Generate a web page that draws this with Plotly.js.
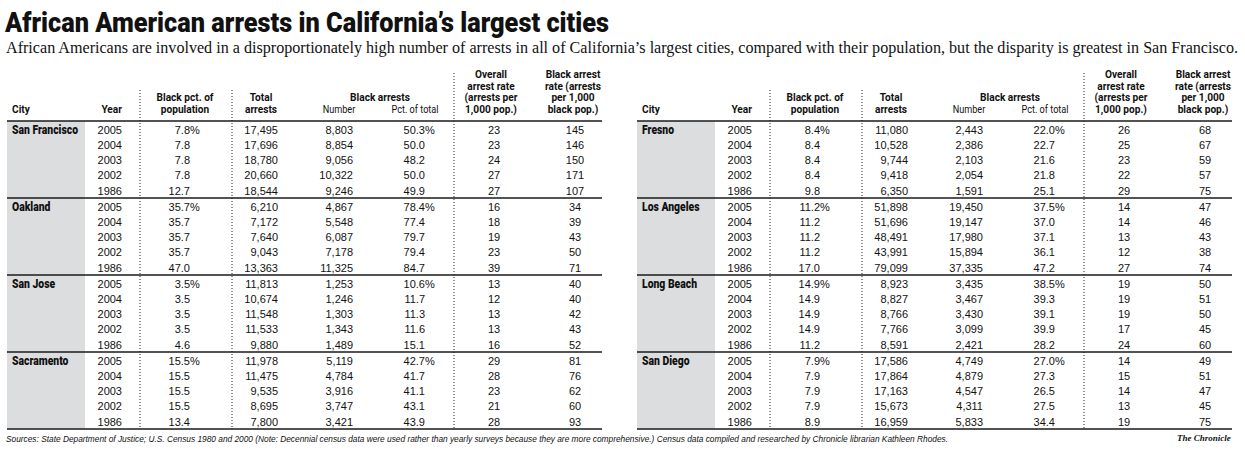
<!DOCTYPE html>
<html><head><meta charset="utf-8">
<script src="https://cdn.plot.ly/plotly-3.0.1.min.js"></script>
<style>html,body{margin:0;padding:0;background:#fff}#chart{width:1245px;height:460px}</style>
</head><body><div id="chart"></div>
<script>
// ---------------- DATA ----------------
const titleText = "African American arrests in California’s largest cities";
const subtitleText = "African Americans are involved in a disproportionately high number of arrests in all of California’s largest cities, compared with their population, but the disparity is greatest in San Francisco.";
const sourceText = "Sources: State Department of Justice; U.S. Census 1980 and 2000 (Note: Decennial census data were used rather than yearly surveys because they are more comprehensive.) Census data compiled and researched by Chronicle librarian Kathleen Rhodes.";
const creditText = "The Chronicle";

const leftCities  = ["San Francisco", "Oakland", "San Jose", "Sacramento"];
const rightCities = ["Fresno", "Los Angeles", "Long Beach", "San Diego"];
const years = [2005, 2004, 2003, 2002, 1986];

// order: San Francisco, Oakland, San Jose, Sacramento, Fresno, Los Angeles, Long Beach, San Diego
const blackPctPop = [
  [7.8, 7.8, 7.8, 7.8, 12.7],
  [35.7, 35.7, 35.7, 35.7, 47.0],
  [3.5, 3.5, 3.5, 3.5, 4.6],
  [15.5, 15.5, 15.5, 15.5, 13.4],
  [8.4, 8.4, 8.4, 8.4, 9.8],
  [11.2, 11.2, 11.2, 11.2, 17.0],
  [14.9, 14.9, 14.9, 14.9, 11.2],
  [7.9, 7.9, 7.9, 7.9, 8.9]
];
const totalArrests = [
  [17495, 17696, 18780, 20660, 18544],
  [6210, 7172, 7640, 9043, 13363],
  [11813, 10674, 11548, 11533, 9880],
  [11978, 11475, 9535, 8695, 7800],
  [11080, 10528, 9744, 9418, 6350],
  [51898, 51696, 48491, 43991, 79099],
  [8923, 8827, 8766, 7766, 8591],
  [17586, 17864, 17163, 15673, 16959]
];
const blackArrests = [
  [8803, 8854, 9056, 10322, 9246],
  [4867, 5548, 6087, 7178, 11325],
  [1253, 1246, 1303, 1343, 1489],
  [5119, 4784, 3916, 3747, 3421],
  [2443, 2386, 2103, 2054, 1591],
  [19450, 19147, 17980, 15894, 37335],
  [3435, 3467, 3430, 3099, 2421],
  [4749, 4879, 4547, 4311, 5833]
];
const blackArrestPct = [
  [50.3, 50.0, 48.2, 50.0, 49.9],
  [78.4, 77.4, 79.7, 79.4, 84.7],
  [10.6, 11.7, 11.3, 11.6, 15.1],
  [42.7, 41.7, 41.1, 43.1, 43.9],
  [22.0, 22.7, 21.6, 21.8, 25.1],
  [37.5, 37.0, 37.1, 36.1, 47.2],
  [38.5, 39.3, 39.1, 39.9, 28.2],
  [27.0, 27.3, 26.5, 27.5, 34.4]
];
const overallRate = [
  [23, 23, 24, 27, 27],
  [16, 18, 19, 23, 39],
  [13, 12, 13, 13, 16],
  [29, 28, 23, 21, 28],
  [26, 25, 23, 22, 29],
  [14, 14, 13, 12, 27],
  [19, 19, 19, 17, 24],
  [14, 15, 14, 13, 19]
];
const blackRate = [
  [145, 146, 150, 171, 107],
  [34, 39, 43, 50, 71],
  [40, 40, 42, 43, 52],
  [81, 76, 62, 60, 93],
  [68, 67, 59, 57, 75],
  [47, 46, 43, 38, 74],
  [50, 51, 50, 45, 60],
  [49, 51, 47, 45, 75]
];

const headerCity = "City";
const headerYear = "Year";
const headerPctPop = ["Black pct. of", "population"];
const headerTotal = ["Total", "arrests"];
const headerBlackArrests = "Black arrests";
const headerNumber = "Number";
const headerShare = "Pct. of total";
const headerOverall = ["Overall", "arrest rate", "(arrests per", "1,000 pop.)"];
const headerRate = ["Black arrest", "rate (arrests", "per 1,000", "black pop.)"];

// ---------------- LAYOUT GEOMETRY ----------------
const W = 1245, H = 460;
const TABLE_OFFSETS = [0, 630];
const X0 = 7, X1 = 602, GRAY_X1 = 85;
const COL = {city: 12, yearR: 122, pctR: 190, totalR: 278, numR: 353, shareR: 425, overallC: 494, rateC: 575,
             pctHdr: 185, totalHdr: 261, baHdr: 380, numHdr: 339, shareHdr: 415, overallHdr: 491, rateHdr: 573};
const DOTS = [{x: 140, top: 90}, {x: 232, top: 90}, {x: 454, top: 73}];
const HEAD_Y = 121, GROUP_H = 77, ROW_OFF = 9.8, ROW_H = 15.3;
const HDR_LINES = [75.5, 87, 98.5, 110.5];

const SANS = "'Liberation Sans', Arial, sans-serif";
const BOLD = "Roboto, 'Liberation Sans', sans-serif";
const INK = "#111";

const fmt = v => v.toLocaleString("en-US");
const fmt1 = v => v.toFixed(1);

function bucket() { return {x: [], y: [], text: []}; }
const dataR = bucket(), pctSign = bucket(), dataC = bucket(), cityB = bucket();
const hdrC = bucket(), hdrL = bucket(), hdrR = bucket(), hdrRegC = bucket();
function add(b, x, y, t) { b.x.push(x); b.y.push(y); b.text.push(t); }

const shapes = [];
const allCities = leftCities.concat(rightCities);

TABLE_OFFSETS.forEach((ox, t) => {
  shapes.push({type: "rect", xref: "x", yref: "y", x0: X0 + ox, x1: GRAY_X1 + ox, y0: HEAD_Y, y1: HEAD_Y + 4 * GROUP_H,
               fillcolor: "#dcdddf", line: {width: 0}, layer: "below"});
  DOTS.forEach(d => shapes.push({type: "line", xref: "x", yref: "y", x0: d.x + ox, x1: d.x + ox, y0: d.top, y1: HEAD_Y + 4 * GROUP_H,
                                 line: {color: "#222", width: 1, dash: "1px,2px"}}));
  for (let g = 0; g <= 4; g++) {
    shapes.push({type: "line", xref: "x", yref: "y", x0: X0 + ox, x1: X1 + ox, y0: HEAD_Y + g * GROUP_H, y1: HEAD_Y + g * GROUP_H,
                 line: {color: "#1a1a1a", width: 1.4}});
  }
  add(hdrL, COL.city + ox, HDR_LINES[3], headerCity);
  add(hdrR, COL.yearR + ox, HDR_LINES[3], headerYear);
  headerPctPop.forEach((s, i) => add(hdrC, COL.pctHdr + ox, HDR_LINES[2 + i], s));
  headerTotal.forEach((s, i) => add(hdrC, COL.totalHdr + ox, HDR_LINES[2 + i], s));
  add(hdrC, COL.baHdr + ox, HDR_LINES[2], headerBlackArrests);
  add(hdrRegC, COL.numHdr + ox, HDR_LINES[3], headerNumber);
  add(hdrRegC, COL.shareHdr + ox, HDR_LINES[3], headerShare);
  headerOverall.forEach((s, i) => add(hdrC, COL.overallHdr + ox, HDR_LINES[i], s));
  headerRate.forEach((s, i) => add(hdrC, COL.rateHdr + ox, HDR_LINES[i], s));

  for (let g = 0; g < 4; g++) {
    const c = t * 4 + g;
    const top = HEAD_Y + g * GROUP_H;
    add(cityB, COL.city + ox, top + ROW_OFF, allCities[c]);
    years.forEach((yr, i) => {
      const y = top + ROW_OFF + i * ROW_H;
      add(dataR, COL.yearR + ox, y, String(yr));
      add(dataR, COL.pctR + ox, y, fmt1(blackPctPop[c][i]));
      add(dataR, COL.totalR + ox, y, fmt(totalArrests[c][i]));
      add(dataR, COL.numR + ox, y, fmt(blackArrests[c][i]));
      add(dataR, COL.shareR + ox, y, fmt1(blackArrestPct[c][i]));
      add(dataC, COL.overallC + ox, y, String(overallRate[c][i]));
      add(dataC, COL.rateC + ox, y, String(blackRate[c][i]));
      if (i === 0) {
        add(pctSign, COL.pctR + ox, y, "%");
        add(pctSign, COL.shareR + ox, y, "%");
      }
    });
  }
});

function textTrace(b, pos, font) {
  return {type: "scatter", mode: "text", x: b.x, y: b.y, text: b.text, textposition: pos,
          textfont: font, hoverinfo: "skip", showlegend: false, cliponaxis: false};
}
const dataFont = {family: SANS, size: 11, color: INK};
const hdrFont = {family: BOLD, size: 11, color: INK, weight: 700};
const traces = [
  textTrace(dataR, "middle left", dataFont),
  textTrace(pctSign, "middle right", dataFont),
  textTrace(dataC, "middle center", dataFont),
  textTrace(cityB, "middle right", {family: BOLD, size: 12, color: INK, weight: 900}),
  textTrace(hdrC, "middle center", hdrFont),
  textTrace(hdrL, "middle right", hdrFont),
  textTrace(hdrR, "middle left", hdrFont),
  textTrace(hdrRegC, "middle center", {family: BOLD, size: 11, color: INK})
];

const layout = {
  width: W, height: H,
  margin: {l: 0, r: 0, t: 0, b: 0},
  paper_bgcolor: "#fff", plot_bgcolor: "#fff",
  xaxis: {range: [0, W], visible: false, fixedrange: true},
  yaxis: {range: [H, 0], visible: false, fixedrange: true},
  showlegend: false,
  title: {text: titleText, x: 5 / W, xanchor: "left", xref: "paper", y: 1 - 22 / H, yanchor: "middle", yref: "paper",
          font: {family: BOLD, size: 28, color: INK, weight: 900}},
  shapes: shapes,
  annotations: [
    {x: 4, y: 48, xref: "x", yref: "y", xanchor: "left", yanchor: "middle", align: "left", showarrow: false,
     text: subtitleText, font: {family: "'Liberation Serif', 'Times New Roman', serif", size: 16, color: INK}},
    {x: 4, y: 438, xref: "x", yref: "y", xanchor: "left", yanchor: "middle", align: "left", showarrow: false,
     text: sourceText, font: {family: SANS, size: 9.5, color: INK, style: "italic"}},
    {x: 1233, y: 438, xref: "x", yref: "y", xanchor: "right", yanchor: "middle", align: "right", showarrow: false,
     text: creditText, font: {family: "'Liberation Serif', serif", size: 9, color: INK, style: "italic", weight: 700}}
  ]
};

Plotly.newPlot("chart", traces, layout, {staticPlot: true, displayModeBar: false}).then(gd => {
  const fitTo = (el, w) => { if (el) { el.setAttribute("textLength", w); el.setAttribute("lengthAdjust", "spacingAndGlyphs"); } };
  const squeeze = (els, f) => els.forEach(el => fitTo(el, el.getComputedTextLength() * f));
  const find = (els, s) => els.find(el => el.textContent === s);
  fitTo(gd.querySelector(".gtitle"), 604);
  gd.querySelectorAll(".annotation-text").forEach(el => {
    if (el.textContent === subtitleText) fitTo(el, 1232);
    if (el.textContent === sourceText) fitTo(el, 942);
  });
  const groups = Array.from(gd.querySelectorAll(".scatterlayer .trace"));
  const textsOf = i => Array.from(groups[i].querySelectorAll(".textpoint text"));
  // condensed city names: "San Francisco" spans ~66px in the reference
  const cityEls = textsOf(3);
  const sf = find(cityEls, leftCities[0]);
  squeeze(cityEls, 66 / sf.getComputedTextLength());
  // condensed bold headers: "Black pct. of" spans ~57px
  const hdrEls = textsOf(4);
  const bp = find(hdrEls, headerPctPop[0]);
  const hf = 57 / bp.getComputedTextLength();
  squeeze(hdrEls, hf); squeeze(textsOf(5), hf); squeeze(textsOf(6), hf);
  // regular header: "Pct. of total" spans ~47px
  const regEls = textsOf(7);
  const pt = find(regEls, headerShare);
  squeeze(regEls, 47 / pt.getComputedTextLength());
});
</script>
</body></html>
